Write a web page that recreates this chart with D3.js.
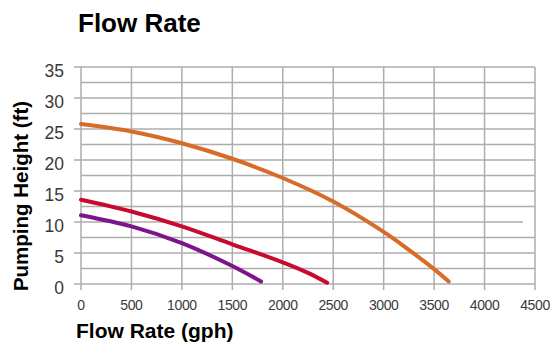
<!DOCTYPE html>
<html>
<head>
<meta charset="utf-8">
<script src="https://cdn.jsdelivr.net/npm/d3@7"></script>
<style>
  body { margin: 0; background: #fff; }
  text { font-family: "Liberation Sans", Arial, sans-serif; }
</style>
</head>
<body>
<div class="center"></div>
<script>
// chart data
var orangeFlow   = [0, 500, 1000, 1500, 2000, 2500, 3000, 3250, 3500, 3645];
var orangeHeight = [25.8, 24.6, 22.7, 20.2, 17.1, 13.3, 8.4, 5.5, 2.4, 0.4];
var redFlow      = [0, 500, 1000, 1500, 2000, 2250, 2440];
var redHeight    = [13.6, 11.7, 9.3, 6.4, 3.5, 1.8, 0.2];
var purpleFlow   = [0, 500, 1000, 1500, 1785];
var purpleHeight = [11.1, 9.3, 6.6, 2.9, 0.4];

var xTicks = [0, 500, 1000, 1500, 2000, 2500, 3000, 3500, 4000, 4500];
var yTicks = [0, 5, 10, 15, 20, 25, 30, 35];
var yGrid  = [0, 2.5, 5, 7.5, 10, 12.5, 15, 17.5, 20, 22.5, 25, 27.5, 30, 32.5, 35];

// set the dimensions of the canvas
var margin = {top: 67, right: 16, bottom: 58, left: 81},
    width = 551 - margin.left - margin.right,
    height = 342 - margin.top - margin.bottom;

var x = d3.scaleLinear().domain([0, 4500]).range([0, width]);
var y = d3.scaleLinear().domain([0, 35]).range([height, 0]);

var svg = d3.select(".center").append("svg")
    .attr("width", 551)
    .attr("height", 342);

var g = svg.append("g")
    .attr("transform", "translate(" + margin.left + "," + margin.top + ")");

var gridColor = "#adadad";

// horizontal grid (the 10 ft line stops short in the original)
g.selectAll(".hgrid")
    .data(yGrid)
    .enter().append("line")
    .attr("class", "hgrid")
    .attr("x1", function(d) { return d % 5 === 0 ? -7 : 0; })
    .attr("x2", function(d) { return d === 10 ? x(4380) : width; })
    .attr("y1", function(d) { return y(d); })
    .attr("y2", function(d) { return y(d); })
    .style("stroke", gridColor)
    .style("stroke-width", 1.5);

// vertical grid, running past the bottom as ticks
g.selectAll(".vgrid")
    .data(xTicks)
    .enter().append("line")
    .attr("class", "vgrid")
    .attr("x1", function(d) { return x(d); })
    .attr("x2", function(d) { return x(d); })
    .attr("y1", 0)
    .attr("y2", height + 6)
    .style("stroke", gridColor)
    .style("stroke-width", 1.5);

// tick labels
g.selectAll(".xlab")
    .data(xTicks)
    .enter().append("text")
    .attr("class", "xlab")
    .attr("x", function(d) { return x(d); })
    .attr("y", height + 26)
    .attr("text-anchor", "middle")
    .style("font-size", "14px")
    .style("fill", "#3a3a3a")
    .style("letter-spacing", "-0.4px")
    .text(function(d) { return d; });

g.selectAll(".ylab")
    .data(yTicks)
    .enter().append("text")
    .attr("class", "ylab")
    .attr("x", -17)
    .attr("y", function(d) { return y(d) + 10; })
    .attr("text-anchor", "end")
    .style("font-size", "17.5px")
    .style("fill", "#3a3a3a")
    .text(function(d) { return d; });

// curves
var line = d3.line()
    .x(function(d) { return x(d[0]); })
    .y(function(d) { return y(d[1]); })
    .curve(d3.curveCatmullRom.alpha(0.5));

var series = [
  {flow: orangeFlow, head: orangeHeight, color: "#d76b27"},
  {flow: redFlow, head: redHeight, color: "#c80a30"},
  {flow: purpleFlow, head: purpleHeight, color: "#7b1589"}
];

series.forEach(function(s) {
  g.append("path")
      .datum(d3.zip(s.flow, s.head))
      .attr("d", line)
      .style("fill", "none")
      .style("stroke", s.color)
      .style("stroke-width", 4)
      .style("stroke-linecap", "round");
});

// titles
svg.append("text")
    .attr("x", 78)
    .attr("y", 32)
    .style("font-size", "26px")
    .style("font-weight", "bold")
    .text("Flow Rate");

svg.append("text")
    .attr("x", 76)
    .attr("y", 338)
    .style("font-size", "21px")
    .style("font-weight", "bold")
    .text("Flow Rate (gph)");

svg.append("text")
    .attr("transform", "translate(28," + 196 + ") rotate(-90)")
    .attr("text-anchor", "middle")
    .style("font-size", "20.5px")
    .style("font-weight", "bold")
    .text("Pumping Height (ft)");
</script>
</body>
</html>
